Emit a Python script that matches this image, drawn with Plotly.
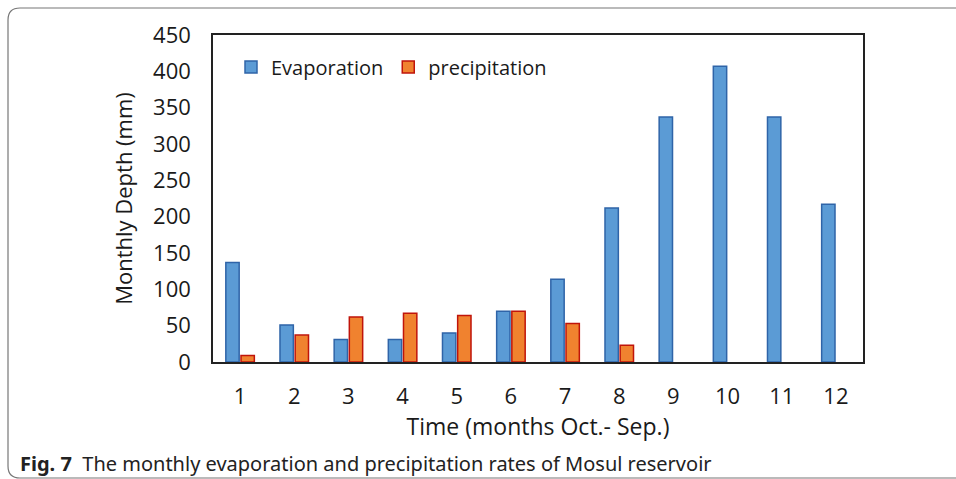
import plotly.graph_objects as go

months = [str(i) for i in range(1, 13)]
evaporation = [137, 51, 31, 31, 40, 70, 114, 212, 337, 407, 337, 217]
precipitation = [9, 37, 62, 67, 64, 70, 53, 23, 0, 0, 0, 0]
y_ticks = [0, 50, 100, 150, 200, 250, 300, 350, 400, 450]

W, H = 956, 479
L, R, T, B = 213, 93, 35, 117
pw, ph = W - L - R, H - T - B

def px(x):
    return (x - L) / pw

def py(y):
    return (H - B - y) / ph

FONT = "Open Sans"

fig = go.Figure()
fig.add_trace(go.Bar(x=months, y=evaporation, name="Evaporation",
                     marker=dict(color="#5B9BD5", line=dict(color="#2F64A8", width=1.5))))
fig.add_trace(go.Bar(x=months, y=precipitation, name="precipitation",
                     marker=dict(color="#F0822F",
                                 line=dict(color="#C0140A",
                                           width=[1.5 if v > 0 else 0 for v in precipitation]))))

# outer rounded frame
r = 12
x0, x1 = px(8), px(975)
y0, y1 = py(8), py(478)
rx, ry = r / pw, r / ph
path = (f"M {x1},{y0} L {x0+rx},{y0} Q {x0},{y0} {x0},{y0-ry} "
        f"L {x0},{y1+ry} Q {x0},{y1} {x0+rx},{y1} L {x1},{y1}")

fig.update_layout(
    width=W, height=H,
    margin=dict(l=L, r=R, t=T, b=B),
    paper_bgcolor="white", plot_bgcolor="white",
    barmode="group", bargap=0.44, bargroupgap=0.12,
    font=dict(family=FONT, color="#1a1a1a"),
    showlegend=True,
    legend=dict(orientation="h", x=px(231), y=py(67), xanchor="left", yanchor="middle",
                font=dict(size=20, family=FONT, color="#1a1a1a"),
                bgcolor="rgba(0,0,0,0)", itemwidth=30, traceorder="normal"),
    xaxis=dict(showline=True, linecolor="#222", linewidth=1.5, mirror=True,
               ticks="outside", ticklen=14, tickcolor="rgba(0,0,0,0)",
               tickfont=dict(size=22, family=FONT),
               title=dict(text="Time (months Oct.- Sep.)", font=dict(size=23, family=FONT), standoff=8)),
    yaxis=dict(range=[0, 450], tickvals=y_ticks, showgrid=False, zeroline=False,
               showline=True, linecolor="#222", linewidth=1.5, mirror=True,
               ticks="outside", ticklen=16, tickcolor="rgba(0,0,0,0)",
               tickfont=dict(size=22, family=FONT),
               title=dict(text="Monthly Depth (mm)", font=dict(size=22, family=FONT), standoff=14)),
    shapes=[dict(type="path", path=path, xref="paper", yref="paper",
                 line=dict(color="#777", width=1.2), layer="below")],
    annotations=[dict(text="<b>Fig. 7</b>  The monthly evaporation and precipitation rates of Mosul reservoir",
                      x=px(18), y=py(463), xref="paper", yref="paper", xanchor="left", yanchor="middle",
                      showarrow=False, font=dict(size=20, family="Noto Sans", color="#222"))],
)

fig.write_html("out.html", config={"displayModeBar": False},
               post_script="document.body.style.margin='0';")
